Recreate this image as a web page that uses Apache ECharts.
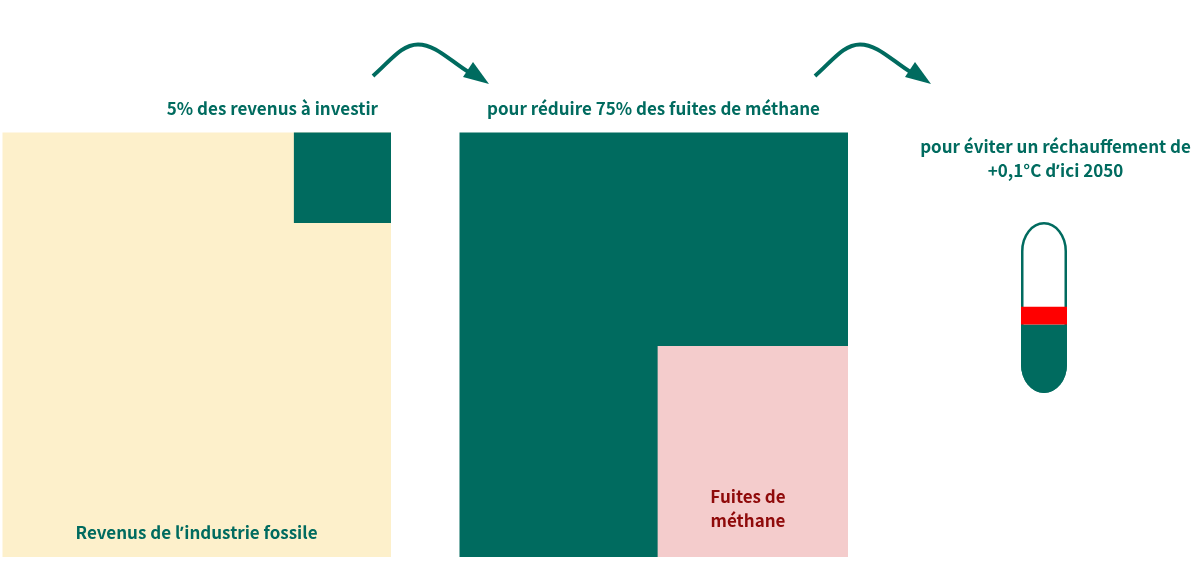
<!DOCTYPE html>
<html><head><meta charset="utf-8">
<style>
html,body{margin:0;padding:0;background:#fff}#c{width:1200px;height:579px}
@font-face{font-family:"Apos";font-weight:bold;src:local("Noto Sans Bold"),local("Open Sans Bold"),local("Liberation Sans Bold");unicode-range:U+2019}
</style>
<script src="https://cdn.jsdelivr.net/npm/echarts@6/dist/echarts.min.js"></script>
</head><body><div id="c"></div>
<script>
// Share of each panel, in % of its width / height: [xStart, xEnd, yStart, yEnd]
const revenueTotal = [0, 100, 0, 100];
const revenueInvest = [75, 100, 78.7, 100];
const methaneTotal = [0, 100, 0, 100];
const methaneLeaks = [51, 100, 0, 49.7];
// Thermometer levels (% of the tube height): [from, to]
const thermoTube = [0, 100];
const thermoBase = [0, 40];
const thermoWarming = [40, 50.5];
const green = '#006b5f', cream = '#fdf0cb', pink = '#f4cccc', red = '#ff0000', darkRed = '#8f0a0a';
const font = 'Apos, "Noto Sans CJK SC"';

function rectSeries(idx, rows, colors) {
  return {
    type: 'custom', xAxisIndex: idx, yAxisIndex: idx, silent: true, animation: false,
    encode: {x: [0, 1], y: [2, 3]},
    data: rows,
    renderItem(p, api) {
      const a = api.coord([api.value(0), api.value(2)]);
      const b = api.coord([api.value(1), api.value(3)]);
      return {type: 'rect', shape: {x: a[0], y: b[1], width: b[0] - a[0], height: a[1] - b[1]},
        style: {fill: colors[p.dataIndex]}};
    }
  };
}
// One capsule part: round at the tube's ends, straight cut elsewhere
function capsuleSeries(row, style, inset) {
  return {
    type: 'custom', xAxisIndex: 2, yAxisIndex: 2, silent: true, animation: false, z: 3,
    encode: {y: [0, 1]},
    data: [row],
    renderItem(p, api) {
      const lo = api.value(0), hi = api.value(1);
      const b = api.coord([0, lo])[1] - inset, t = api.coord([0, hi])[1] + inset;
      const l = p.coordSys.x + inset, r = p.coordSys.x + p.coordSys.width - inset;
      const rx = (r - l) / 2, ry = 28;
      let d = hi === 100 ? `M${l} ${t + ry}A${rx} ${ry} 0 0 1 ${r} ${t + ry}` : `M${l} ${t}L${r} ${t}`;
      d += lo === 0 ? `L${r} ${b - ry}A${rx} ${ry} 0 0 1 ${l} ${b - ry}Z` : `L${r} ${b}L${l} ${b}Z`;
      return {type: 'path', shape: {pathData: d, layout: 'cover', x: l, y: t, width: r - l, height: b - t}, style};
    }
  };
}
function txt(text, x, y, size, fill, align) {
  return {type: 'text', x, y, z: 100, silent: true,
    style: {text, fill, font: `bold ${size}px ${font}`, textAlign: align || 'center', textVerticalAlign: 'middle', lineHeight: 24}};
}
function arrow(x0) {
  const s = x0 - 373;
  const seg = (x1, y1, a, b, c, d, x2, y2) => ({type: 'bezierCurve', z: 100, silent: true,
    shape: {x1: x1 + s, y1, cpx1: a + s, cpy1: b, cpx2: c + s, cpy2: d, x2: x2 + s, y2},
    style: {stroke: green, lineWidth: 4, fill: null}});
  return [
    seg(373, 76, 391, 60, 402, 44.5, 418, 44.5),
    seg(418, 44.5, 436, 44.5, 450, 61, 470, 73),
    {type: 'polygon', z: 100, silent: true,
      shape: {points: [[473 + s, 62], [463 + s, 77], [489 + s, 84]]}, style: {fill: green}}
  ];
}
const hidden = (gridIndex, extra) => Object.assign({gridIndex, show: false}, extra);
const pct = {type: 'value', min: 0, max: 100};
function draw() {
  const chart = echarts.init(document.getElementById('c'), null, {renderer: 'canvas'});
  chart.setOption({
    animation: false,
    grid: [
      {left: 2.5, top: 132.5, width: 388.5, height: 424.5},
      {left: 459.5, top: 132.5, width: 388.5, height: 424.5},
      {left: 1021, top: 222, width: 46, height: 171}
    ],
    xAxis: [hidden(0, pct), hidden(1, pct), hidden(2, {type: 'value', min: 0, max: 1})],
    yAxis: [hidden(0, pct), hidden(1, pct), hidden(2, pct)],
    series: [
      rectSeries(0, [revenueTotal, revenueInvest], [cream, green]),
      rectSeries(1, [methaneTotal, methaneLeaks], [green, pink]),
      capsuleSeries(thermoTube, {fill: '#fff', stroke: green, lineWidth: 2.5}, 1.25),
      capsuleSeries(thermoBase, {fill: green}, 0),
      capsuleSeries(thermoWarming, {fill: red}, 0)
    ],
    graphic: [
      ...arrow(373), ...arrow(815),
      txt('5% des revenus à investir', 378, 108.5, 17, green, 'right'),
      txt('pour réduire 75% des fuites de méthane', 653.5, 108.5, 17, green),
      txt('pour éviter un réchauffement de\n+0,1°C d’ici 2050', 1055.5, 158.5, 17, green),
      txt('Revenus de l’industrie fossile', 196.5, 532.5, 17, green),
      txt('Fuites de\nméthane', 748, 508.5, 17, darkRed)
    ]
  });
}
Promise.all([
  document.fonts.load('bold 17px Apos', '’'),
  document.fonts.load('bold 17px "Noto Sans CJK SC"', 'a')
]).then(draw, draw);
</script></body></html>
